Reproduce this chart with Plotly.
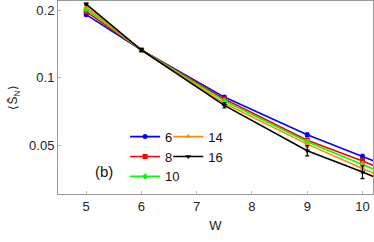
import math
import plotly.graph_objects as go

W = [5, 6, 7.5, 9, 10, 11]
labels = ["6", "8", "10", "14", "16"]
S6 = [0.191, 0.133, 0.0821, 0.0558, 0.0447, 0.0355]
S8 = [0.197, 0.133, 0.0805, 0.0528, 0.0426, 0.0338]
S10 = [0.202, 0.133, 0.0790, 0.0519, 0.0411, 0.0325]
S14 = [0.207, 0.133, 0.0770, 0.0507, 0.0395, 0.0312]
S16 = [0.213, 0.133, 0.0754, 0.0474, 0.0381, 0.0300]
err6 = [0.001, 0.001, 0.001, 0.001, 0.001, 0.001]
err8 = [0.001, 0.001, 0.001, 0.001, 0.001, 0.001]
err10 = [0.0015, 0.001, 0.001, 0.0012, 0.0012, 0.0012]
err14 = [0.002, 0.0015, 0.0015, 0.0015, 0.0018, 0.0018]
err16 = [0.002, 0.002, 0.002, 0.0025, 0.0025, 0.0025]
series = [S6, S8, S10, S14, S16]
errs = [err6, err8, err10, err14, err16]
colors = ["#0000ff", "#ff0000", "#00ff00", "#ff8c00", "#000000"]
symbols = ["circle", "square", "diamond", "triangle-up", "triangle-down"]
legends = ["legend", "legend", "legend", "legend2", "legend2"]

fig = go.Figure()
for lab, ys, e, c, s, lg in zip(labels, series, errs, colors, symbols, legends):
    fig.add_trace(go.Scatter(
        x=W, y=ys, name=lab, mode="lines+markers",
        line=dict(color=c, width=1.6),
        marker=dict(color=c, symbol=s, size=5),
        error_y=dict(type="data", array=e, color=c, thickness=1.2, width=2),
        legend=lg,
    ))

font = dict(family="Liberation Sans, Arial, sans-serif", size=13, color="#222")
fig.update_layout(
    width=374, height=242,
    margin=dict(l=58, r=1, t=1, b=48),
    plot_bgcolor="white", paper_bgcolor="white",
    font=font,
    legend=dict(x=0.213, y=0.375, xanchor="left", yanchor="top",
                bgcolor="rgba(0,0,0,0)", font=dict(size=13, color="#111"),
                tracegroupgap=0, itemwidth=30),
    legend2=dict(x=0.35, y=0.375, xanchor="left", yanchor="top",
                 bgcolor="rgba(0,0,0,0)", font=dict(size=13, color="#111"),
                 tracegroupgap=0, itemwidth=30),
    annotations=[dict(text="(b)", x=5.33, y=math.log10(0.0383), xref="x", yref="y",
                      showarrow=False, font=dict(size=15, color="#111"),
                      xanchor="center", yanchor="middle")],
)
fig.update_xaxes(range=[4.49, 10.19], tickvals=[5, 6, 7, 8, 9, 10],
                 showline=True, linecolor="#999", linewidth=1, mirror=True,
                 ticks="inside", ticklen=3, tickcolor="#bbb", showgrid=False, zeroline=False,
                 automargin=False,
                 title=dict(text="W", standoff=8, font=dict(size=13)))
fig.update_yaxes(type="log", range=[-1.517, -0.658], tickvals=[0.05, 0.1, 0.2],
                 ticktext=["0.05", "0.1", "0.2"],
                 showline=True, linecolor="#999", linewidth=1, mirror=True,
                 ticks="inside", ticklen=3, tickcolor="#bbb", showgrid=False, zeroline=False,
                 automargin=False,
                 title=dict(text="⟨S\u0304<sub>N</sub>⟩", standoff=8, font=dict(size=12)))
fig.write_html("out.html", config={"displayModeBar": False},
               post_script="document.body.style.margin='0';")
